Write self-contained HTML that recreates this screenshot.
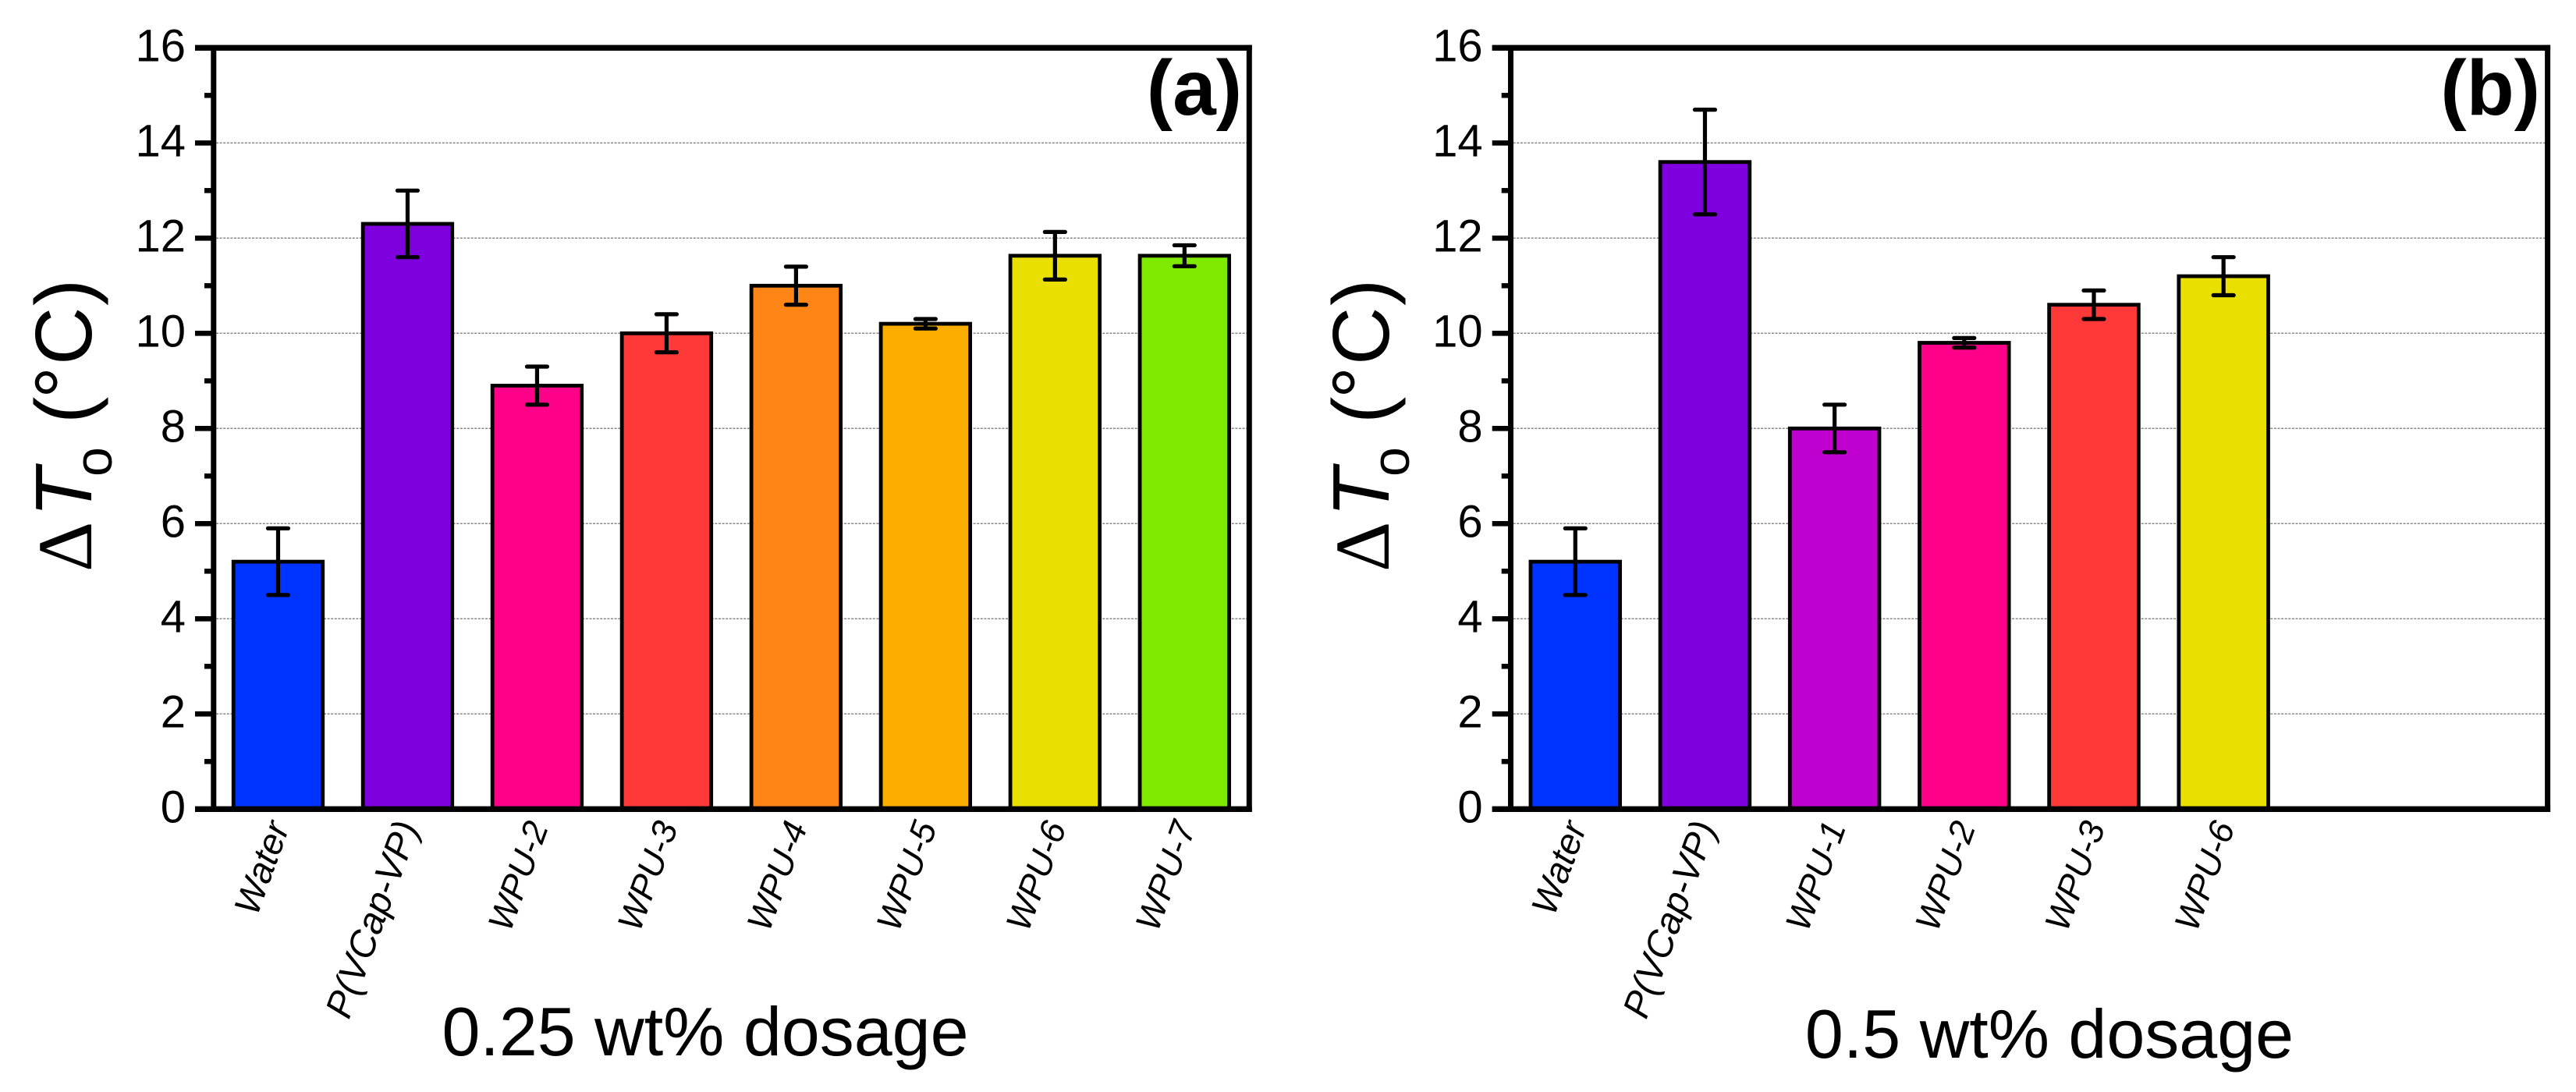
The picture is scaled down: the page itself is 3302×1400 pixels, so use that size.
<!DOCTYPE html>
<html lang="en">
<head>
<meta charset="utf-8">
<title>Delta T bar charts</title>
<style>
html,body{margin:0;padding:0;background:#fff;width:3302px;height:1400px;overflow:hidden}
svg{display:block}
text{font-family:"Liberation Sans",Arial,sans-serif;fill:#000}
</style>
</head>
<body>
<svg id="figure" xmlns="http://www.w3.org/2000/svg" width="3302" height="1400" viewBox="0 0 3302 1400">
  <rect width="3302" height="1400" fill="#fff"/>
  <g id="panel-a"></g>
  <g id="panel-b"></g>

  <text transform="translate(117,733) rotate(-90)" font-size="103"><tspan x="0" font-family="Liberation Serif" font-size="100">Δ</tspan><tspan x="70" font-style="italic">T</tspan><tspan x="122" dy="26" font-size="68">o</tspan><tspan x="190" dy="-26">(</tspan><tspan x="222">°</tspan><tspan x="265">C</tspan><tspan x="341">)</tspan></text>
  <text transform="translate(1780,733) rotate(-90)" font-size="103"><tspan x="0" font-family="Liberation Serif" font-size="100">Δ</tspan><tspan x="70" font-style="italic">T</tspan><tspan x="122" dy="26" font-size="68">o</tspan><tspan x="190" dy="-26">(</tspan><tspan x="222">°</tspan><tspan x="265">C</tspan><tspan x="341">)</tspan></text>

  <text x="904" y="1353" font-size="88" text-anchor="middle">0.25 wt% dosage</text>
  <text x="2627" y="1356" font-size="88" text-anchor="middle">0.5 wt% dosage</text>

  <text x="1592" y="147" font-size="100" font-weight="bold" text-anchor="end">(a)</text>
  <text x="3256" y="147" font-size="100" font-weight="bold" text-anchor="end">(b)</text>
</svg>

<script>
// Panel (a) data: 0.25 wt% dosage
const categoriesA = ['Water', 'P(VCap-VP)', 'WPU-2', 'WPU-3', 'WPU-4', 'WPU-5', 'WPU-6', 'WPU-7'];
const valuesA = [5.2, 12.3, 8.9, 10.0, 11.0, 10.2, 11.63, 11.63];
const errorsA = [0.7, 0.7, 0.4, 0.4, 0.4, 0.1, 0.5, 0.22];

// Panel (b) data: 0.5 wt% dosage
const categoriesB = ['Water', 'P(VCap-VP)', 'WPU-1', 'WPU-2', 'WPU-3', 'WPU-6'];
const valuesB = [5.2, 13.6, 8.0, 9.8, 10.6, 11.2];
const errorsB = [0.7, 1.1, 0.5, 0.1, 0.3, 0.4];

// Y axis ticks
const yMajorTicks = [0, 2, 4, 6, 8, 10, 12, 14, 16];
const yMinorTicks = [1, 3, 5, 7, 9, 11, 13, 15];
const yGridTicks = [2, 4, 6, 8, 10, 12, 14];

const barColors = {
  'Water': '#0033ff',
  'P(VCap-VP)': '#7f00df',
  'WPU-1': '#bf00cf',
  'WPU-2': '#ff0088',
  'WPU-3': '#ff3838',
  'WPU-4': '#ff8616',
  'WPU-5': '#fbae00',
  'WPU-6': '#e9df00',
  'WPU-7': '#80e900'
};

const SVG_NS = 'http://www.w3.org/2000/svg';
const SLOT_COUNT = 8;
const Y_ZERO = 1037.3;
const Y_UNIT = 61.0;

function yScale(v) {
  return Y_ZERO - Y_UNIT * v;
}

function bandScale(i, left, right) {
  return left + (i + 0.5) * (right - left) / SLOT_COUNT;
}

function labelSize(cat) {
  if (cat === 'P(VCap-VP)') return 48;
  if (cat === 'Water') return 46.5;
  return 45;
}

function make(parent, tag, attrs, name) {
  const el = document.createElementNS(SVG_NS, tag);
  for (const key in attrs) {
    el.setAttribute(key, attrs[key]);
  }
  
  
  parent.appendChild(el);
  return el;
}

function drawPanel(group, left, right, categories, values, errors, suffix) {
  const step = (right - left) / SLOT_COUNT;
  const barWidth = step * 0.69;

  yGridTicks.forEach(function (t) {
    make(group, 'line', {
      x1: left + 3.5, x2: right - 3, y1: yScale(t), y2: yScale(t),
      stroke: '#888', 'stroke-width': 1.5, 'stroke-dasharray': '3 1.6'
    }, 'gridline-' + t);
  });

  categories.forEach(function (cat, i) {
    const cx = bandScale(i, left, right);
    const top = yScale(values[i]);
    make(group, 'rect', {
      x: cx - barWidth / 2, y: top, width: barWidth, height: yScale(0) - top,
      fill: barColors[cat], stroke: '#000', 'stroke-width': 4.8
    }, 'bar-' + cat.toLowerCase().replace(/[^a-z0-9]+/g, '-') + suffix);
  });

  categories.forEach(function (cat, i) {
    const cx = bandScale(i, left, right);
    const hi = yScale(values[i] + errors[i]);
    const lo = yScale(values[i] - errors[i]);
    make(group, 'path', {
      d: 'M' + cx + ' ' + hi + 'V' + lo +
         'M' + (cx - 13) + ' ' + hi + 'H' + (cx + 13) +
         'M' + (cx - 13) + ' ' + lo + 'H' + (cx + 13),
      fill: 'none', stroke: '#000', 'stroke-width': 5.2, 'stroke-linecap': 'round'
    }, 'error-bar-' + cat.toLowerCase().replace(/[^a-z0-9]+/g, '-') + suffix);
  });

  // Frame: left, right, top and bottom axes
  make(group, 'line', {
    x1: left + 0.3, x2: left + 0.3, y1: yScale(16), y2: yScale(0), stroke: '#000', 'stroke-width': 7
  }, 'y-axis-line');
  make(group, 'line', {
    x1: right, x2: right, y1: yScale(16) - 3.5, y2: yScale(0) + 3.5, stroke: '#000', 'stroke-width': 7
  }, 'right-axis-line');
  make(group, 'line', {
    x1: left - 23.5, x2: right + 3.5, y1: yScale(16), y2: yScale(16), stroke: '#000', 'stroke-width': 7.3
  }, 'top-axis-line');
  make(group, 'line', {
    x1: left - 23.5, x2: right + 3.5, y1: yScale(0), y2: yScale(0), stroke: '#000', 'stroke-width': 7.3
  }, 'x-axis-line');

  yMajorTicks.forEach(function (t) {
    make(group, 'line', {
      x1: left - 23.5, x2: left, y1: yScale(t), y2: yScale(t), stroke: '#000', 'stroke-width': 6.7
    }, 'y-major-tick-' + t);
    const label = make(group, 'text', {
      x: left - 35.5, y: yScale(t) + 17, 'font-size': 58, 'text-anchor': 'end'
    }, 'y-tick-label-' + t);
    label.textContent = String(t);
  });

  yMinorTicks.forEach(function (t) {
    make(group, 'line', {
      x1: left - 11.5, x2: left, y1: yScale(t), y2: yScale(t), stroke: '#000', 'stroke-width': 6.5
    }, 'y-minor-tick-' + t);
  });

  categories.forEach(function (cat, i) {
    const cx = bandScale(i, left, right);
    const label = make(group, 'text', {
      transform: 'translate(' + (cx + 15) + ',1060) rotate(-70)',
      'font-size': labelSize(cat), 'font-style': 'italic', 'text-anchor': 'end'
    }, 'x-tick-label-' + cat.toLowerCase().replace(/[^a-z0-9]+/g, '-') + suffix);
    label.textContent = cat;
  });
}

drawPanel(document.getElementById('panel-a'), 273.5, 1601.3, categoriesA, valuesA, errorsA, '-a');
drawPanel(document.getElementById('panel-b'), 1936.2, 3265.6, categoriesB, valuesB, errorsB, '-b');
</script>
</body>
</html>
